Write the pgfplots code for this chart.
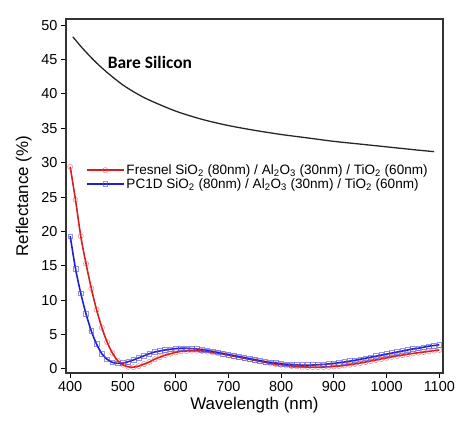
\documentclass[border=0pt]{standalone}
\usepackage{pgfplots}
\pgfplotsset{compat=1.18}
\usepackage{fontspec}
\setmainfont{Liberation Sans}
\newfontfamily\calfont{Carlito}
\definecolor{fresred}{RGB}{214,30,30}
\definecolor{pcblue}{RGB}{30,30,215}
\begin{document}
\begin{tikzpicture}
\useasboundingbox (0,0) rectangle (457bp,423bp);
\begin{axis}[
  at={(66bp,50bp)}, anchor=south west,
  scale only axis,
  width=377bp, height=354bp,
  xmin=392, xmax=1107,
  ymin=-0.6, ymax=50.9,
  xtick={400,500,...,1100},
  ytick={0,5,...,50},
  tick align=outside,
  major tick length=5bp,
  xtick pos=bottom, ytick pos=left,
  tick style={black, line width=1pt},
  axis line style={black!80, line width=1.2pt},
  tick label style={font=\fontsize{14.5}{16}\selectfont},
  /pgf/number format/assume math mode=true,
  /pgf/number format/1000 sep={},
  xlabel={Wavelength (nm)},
  ylabel={Reflectance (\%)},
  label style={font=\fontsize{17}{19}\selectfont},
  xlabel style={yshift=1bp},
  ylabel style={yshift=3bp},
  legend style={at={(0.05,0.598)}, anchor=north west, draw=none, fill=none,
    font=\fontsize{13.6}{15}\selectfont, row sep=-1.5bp,
    inner sep=1bp},
  legend cell align=left,
  legend image code/.code={\draw[mark repeat=2,mark phase=2] plot coordinates {(0cm,0cm) (0.65cm,0cm) (1.3cm,0cm)};},
  clip=false,
]
\addplot[black!85, line width=1.3pt, smooth, forget plot] coordinates {
  (405,48.3) (425,46.5) (450,44.5) (475,42.8) (500,41.3) (525,40.1)
  (550,39.1) (600,37.5) (650,36.3) (700,35.4) (750,34.7) (800,34.1)
  (850,33.6) (900,33.1) (950,32.7) (1000,32.3) (1050,31.9) (1090,31.6)
};
\addplot[fresred, line width=1.6pt, smooth, mark=o, mark size=2.6pt,
  mark options={line width=0.6pt, draw opacity=0.6, fresred!80}] coordinates {
  (400,29.4) (410,24.6) (420,19.3) (430,15.3) (440,11.7) (450,8.6) (460,6.0)
  (470,3.9) (480,2.3) (490,1.2) (500,0.6) (510,0.3) (520,0.25) (530,0.4)
  (540,0.7) (550,1.0) (560,1.4) (570,1.7) (580,2.0) (590,2.2) (600,2.4)
  (610,2.55) (620,2.6) (630,2.65) (640,2.65) (650,2.6) (660,2.5) (670,2.4)
  (680,2.3) (690,2.15) (700,2.0) (710,1.85) (720,1.7) (730,1.55) (740,1.4)
  (750,1.25) (760,1.1) (770,0.95) (780,0.8) (790,0.7) (800,0.6) (810,0.5)
  (820,0.42) (830,0.36) (840,0.3) (850,0.27) (860,0.25) (870,0.25) (880,0.27)
  (890,0.3) (900,0.35) (910,0.42) (920,0.5) (930,0.6) (940,0.72) (950,0.85)
  (960,1.0) (970,1.15) (980,1.3) (990,1.45) (1000,1.6) (1010,1.75) (1020,1.9)
  (1030,2.0) (1040,2.15) (1050,2.25) (1060,2.35) (1070,2.45) (1080,2.55)
  (1090,2.65) (1100,2.75)
};
\addlegendentry{Fresnel SiO\textsubscript{2} (80nm) / Al\textsubscript{2}O\textsubscript{3} (30nm) / TiO\textsubscript{2} (60nm)}
\addplot[pcblue, line width=1.6pt, smooth, mark=square, mark size=2.4pt,
  mark options={line width=0.6pt, draw opacity=0.6, pcblue!80}] coordinates {
  (400,19.3) (410,14.6) (420,11.0) (430,8.0) (440,5.5) (450,3.6) (460,2.2)
  (470,1.4) (480,0.95) (490,0.8) (500,0.85) (510,1.05) (520,1.3) (530,1.6)
  (540,1.9) (550,2.2) (560,2.45) (570,2.6) (580,2.75) (590,2.85) (600,2.95)
  (610,3.0) (620,3.0) (630,2.95) (640,2.9) (650,2.8) (660,2.7) (670,2.55)
  (680,2.4) (690,2.25) (700,2.1) (710,1.95) (720,1.8) (730,1.65) (740,1.5)
  (750,1.35) (760,1.2) (770,1.05) (780,0.95) (790,0.85) (800,0.75) (810,0.68)
  (820,0.62) (830,0.58) (840,0.55) (850,0.55) (860,0.56) (870,0.6) (880,0.65)
  (890,0.72) (900,0.8) (910,0.9) (920,1.0) (930,1.12) (940,1.25) (950,1.4)
  (960,1.55) (970,1.7) (980,1.85) (990,2.0) (1000,2.15) (1010,2.3) (1020,2.45)
  (1030,2.6) (1040,2.75) (1050,2.9) (1060,3.0) (1070,3.15) (1080,3.3)
  (1090,3.4) (1100,3.5)
};
\addlegendentry{PC1D SiO\textsubscript{2} (80nm) / Al\textsubscript{2}O\textsubscript{3} (30nm) / TiO\textsubscript{2} (60nm)}
\node[anchor=west, inner sep=0pt, font=\calfont\bfseries\fontsize{17.5}{19}\selectfont] at (axis cs:471,44.6) {Bare Silicon};
\end{axis}
\end{tikzpicture}
\end{document}
